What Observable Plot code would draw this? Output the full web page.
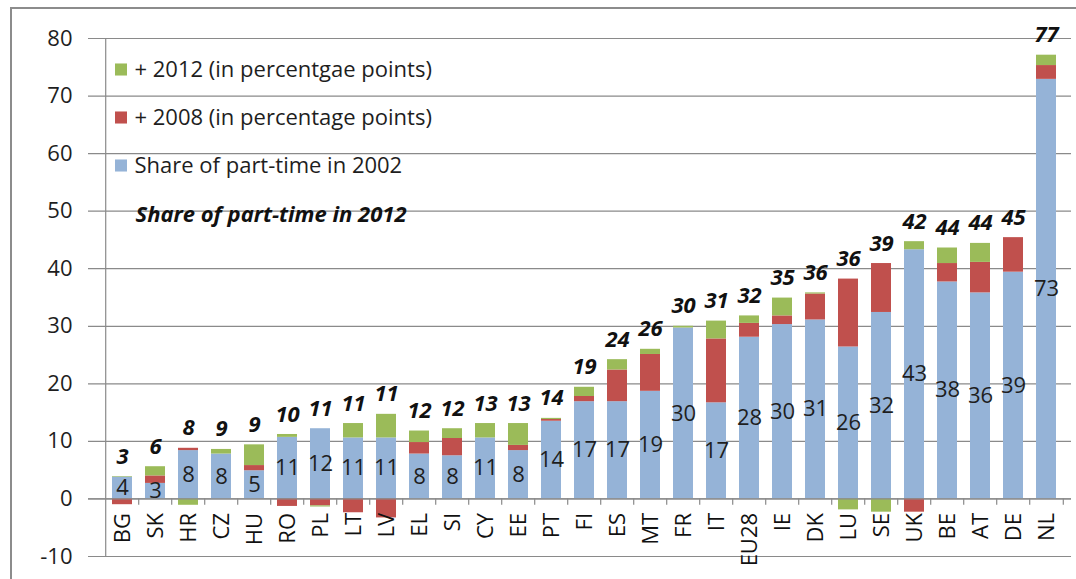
<!DOCTYPE html>
<html>
<head>
<meta charset="utf-8">
<script src="https://cdn.jsdelivr.net/npm/d3@7"></script>
<script src="https://cdn.jsdelivr.net/npm/@observablehq/plot@0.6"></script>
<style>
  html, body { margin: 0; padding: 0; background: #fff; }
  #wrap { position: relative; width: 1076px; height: 579px; overflow: hidden; }
  #border { position: absolute; left: 10px; top: 7px; width: 1100px; height: 700px;
            border-top: 2px solid #8c8c8c; border-left: 2px solid #8c8c8c; pointer-events: none; }
  #chart { position: absolute; left: 0; top: 0; }
</style>
</head>
<body>
<div id="wrap"><div id="border"></div><div id="chart"></div></div>
<script>
// ---- data ----
const categories = ["BG","SK","HR","CZ","HU","RO","PL","LT","LV","EL","SI","CY","EE","PT","FI","ES","MT","FR","IT","EU28","IE","DK","LU","SE","UK","BE","AT","DE","NL"];
const share2002  = [3.8, 2.7, 8.4, 7.8, 4.9, 10.7, 12.2, 10.6, 10.6, 7.8, 7.5, 10.6, 8.4, 13.5, 16.9, 16.9, 18.7, 29.7, 16.7, 28.1, 30.3, 31.1, 26.4, 32.4, 43.3, 37.7, 35.8, 39.4, 72.9];
const plus2008   = [-1.0, 1.3, 0.4, 0.0, 0.9, -1.3, -1.2, -2.4, -3.3, 2.0, 3.0, 0.0, 0.9, 0.3, 0.9, 5.5, 6.4, 0.0, 11.1, 2.4, 1.5, 4.5, 11.8, 8.5, -2.3, 3.2, 5.3, 6.0, 2.4];
const plus2012   = [0.1, 1.6, -1.1, 0.8, 3.6, 0.5, -0.2, 2.5, 4.1, 2.0, 1.7, 2.5, 3.8, 0.2, 1.6, 1.8, 0.9, 0.3, 3.1, 1.3, 3.1, 0.2, -1.9, -2.3, 1.4, 2.7, 3.3, 0.0, 1.8];
const share2012  = [3, 6, 8, 9, 9, 10, 11, 11, 11, 12, 12, 13, 13, 14, 19, 24, 26, 30, 31, 32, 35, 36, 36, 39, 42, 44, 44, 45, 77];
const seriesNames = ["Share of part-time in 2002", "+ 2008 (in percentage points)", "+ 2012 (in percentgae points)"];
const seriesColors = ["#95B3D7", "#C0504D", "#9BBB59"];
const legendOrder = [2, 1, 0];
const totalLabelTitle = "Share of part-time in 2012";
const yTicks = [-10, 0, 10, 20, 30, 40, 50, 60, 70, 80];

// ---- build tables ----
const seriesValues = [share2002, plus2008, plus2012];
const rows = [];
seriesValues.forEach((vals, s) => {
  categories.forEach((c, i) => rows.push({cat: c, series: seriesNames[s], value: vals[i]}));
});
const cats = categories.map((c, i) => ({
  cat: c,
  base: share2002[i],
  top: share2002[i] + Math.max(plus2008[i], 0) + Math.max(plus2012[i], 0),
  total: share2012[i]
}));

// ---- layout ----
const W = 1076, H = 579, mL = 97, mR = 5, mT = 38, mB = 23;
const step = (W - mL - mR) / categories.length;
const font = "'Open Sans', Lato, sans-serif";
const fs = 22;

const legendMarks = [];
legendOrder.forEach((s, k) => {
  const dy = 31 + k * 48;
  legendMarks.push(Plot.dot([seriesNames[s]], {frameAnchor: "top-left", dx: 23.5, dy, symbol: "square", r: 6.8, fill: seriesColors[s], stroke: null}));
  legendMarks.push(Plot.text([seriesNames[s]], {text: d => d, frameAnchor: "top-left", dx: 37, dy, textAnchor: "start", lineAnchor: "middle", fontSize: fs, fill: "#1e1e1e"}));
});
legendMarks.push(Plot.text([totalLabelTitle], {text: d => d, frameAnchor: "top-left", dx: 38, dy: 176, textAnchor: "start", lineAnchor: "middle", fontSize: fs, fontWeight: "bold", fontStyle: "italic", fill: "#111"}));

const chart = Plot.plot({
  width: W, height: H,
  marginLeft: mL, marginRight: mR, marginTop: mT, marginBottom: mB,
  style: {fontFamily: font, fontSize: fs + "px", color: "#1e1e1e", background: "transparent"},
  x: {domain: categories, paddingInner: 0.39, paddingOuter: 0.195, axis: null},
  y: {domain: [-10, 80], axis: null},
  color: {domain: seriesNames, range: seriesColors},
  marks: [
    Plot.ruleY(yTicks, {stroke: "#8a8a8a", strokeWidth: 1.2, insetLeft: -9}),
    Plot.axisY({ticks: yTicks, tickSize: 0, tickPadding: 25, fontSize: fs, fill: "#1e1e1e", tickFormat: d => d < 0 ? "-" + Math.abs(d) : String(d)}),
    Plot.barY(rows, {x: "cat", y: "value", fill: "series", order: seriesNames}),
    // axis line on the left
    Plot.ruleX([categories[0]], {x: d => d, y1: -10, y2: 80, dx: -step / 2, stroke: "#8a8a8a", strokeWidth: 1.2}),
    // category separators on zero line
    Plot.ruleX(categories.slice(1), {x: d => d, y1: 0, y2: -1.1, dx: -step / 2, stroke: "#8a8a8a", strokeWidth: 1.2}),
    Plot.ruleX([categories[categories.length - 1]], {x: d => d, y1: 0, y2: -1.1, dx: step / 2, stroke: "#8a8a8a", strokeWidth: 1.2}),
    Plot.ruleY([0], {stroke: "#8a8a8a", strokeWidth: 1.2, insetLeft: -9}),
    // category labels
    Plot.text(categories, {x: d => d, y: () => 0, text: d => d, rotate: -90, textAnchor: "end", lineAnchor: "middle", dy: 14, fontSize: fs, fill: "#111"}),
    // 2002 share labels inside blue bars
    Plot.text(cats, {x: "cat", y: d => d.base / 2, text: d => String(Math.round(d.base)), fontSize: fs, fill: "#1e1e1e"}),
    // 2012 totals
    Plot.text(cats, {x: "cat", y: "top", text: d => String(d.total), dy: -20, fontSize: fs, fontWeight: "bold", fontStyle: "italic", fill: "#111"}),
    ...legendMarks
  ]
});
document.getElementById("chart").appendChild(chart);
</script>
</body>
</html>
